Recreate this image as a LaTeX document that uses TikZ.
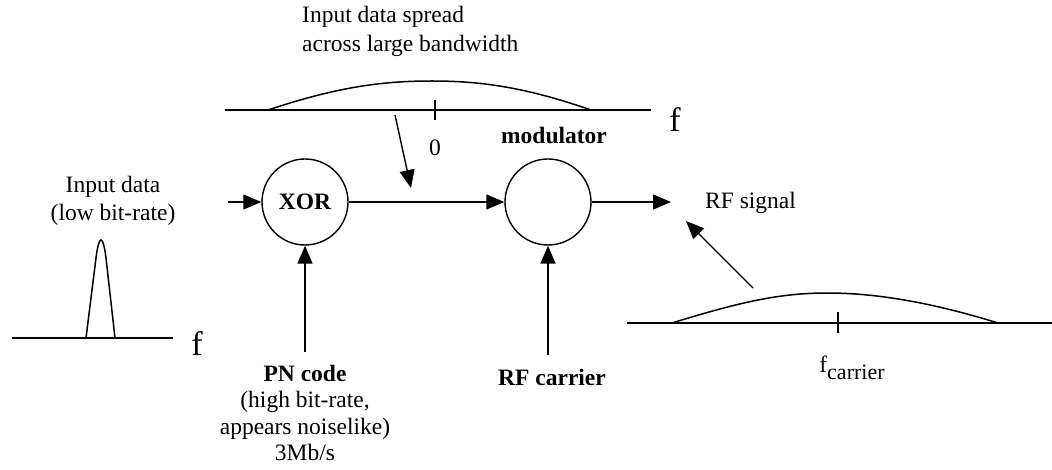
\documentclass[tikz,border=0pt]{standalone}
\usepackage{fontspec}
\setmainfont{Liberation Serif}
\usetikzlibrary{arrows.meta}
\newcommand{\txt}{\fontsize{23.5}{27.5}\selectfont}
\newcommand{\bigf}{\fontsize{34}{40}\selectfont f}
\tikzset{
  blk/.style={draw, circle, line width=1.4pt, minimum size=86pt, inner sep=0pt},
  sig/.style={-{Triangle[length=18pt,width=15pt]}, line width=1.4pt},
  axis/.style={line width=2pt},
  lbl/.style={inner sep=0pt, align=center},
}

\begin{document}
\begin{tikzpicture}[x=1pt, y=-1pt, font=\txt]
  \useasboundingbox (0,0) rectangle (1052,470);
  % blocks and the signal path
  \node[blk] (xor) at (305,202) {\textbf{XOR}};
  \node[blk] (mod) at (548,202) {};
  \node[lbl, font=\txt\bfseries] (modlbl) at (554,135) {modulator};
  \coordinate (inA) at (228,202);
  \coordinate (outB) at (671,202);
  \draw[sig] (inA) -- (xor.west);
  \draw[sig] (xor.east) -- (mod.west);
  \draw[sig] (mod.east) -- (outB);
  \node[lbl, anchor=west] (rfsig) at (705,203) {RF signal};
  % inputs from below
  \node[lbl, font=\fontsize{23.5}{26.5}\selectfont] (pncode) at (305,413) {\textbf{PN code}\\(high bit-rate,\\appears noiselike)\\3Mb/s};
  \node[lbl] (rfcar) at (552,377) {\textbf{RF carrier}};
  \draw[sig] ([yshift=13pt]pncode.north -| xor.south) -- (xor.south);
  \draw[sig] ([yshift=14pt]rfcar.north -| mod.south) -- (mod.south);
  % (a) narrow spectrum of the input data
  \node[lbl] (indata) at (113,201) {Input data\\(low bit-rate)};
  \draw[axis] (12,338) -- (173,338);
  \draw[line width=1.5pt] (86,338) -- (96,258) .. controls (99,234) and (103,234) .. (106,258) -- (115,338);
  \node[lbl] (fa) at (197,344) {\bigf};
  % (b) spread spectrum after XOR
  \node[lbl, anchor=west, align=left, font=\fontsize{23.5}{29}\selectfont] (spread) at (302,31) {Input data spread\\across large bandwidth};
  \draw[axis] (225,110) -- (651,110);
  \draw[line width=1.5pt] (268,110) .. controls (340,86) and (385,81) .. (432,81) .. controls (480,81) and (525,87) .. (591,110);
  \draw[line width=1.4pt] (435,100) -- (435,120);
  \node[lbl] (zero) at (435,148) {0};
  \node[lbl] (fb) at (675,120) {\bigf};
  \coordinate (sprA) at (395,115);
  \coordinate (sprB) at (411,188);
  \draw[sig] (sprA) -- (sprB);
  % (c) spectrum of the RF signal round the carrier
  \draw[axis] (627,323) -- (1052,323);
  \draw[line width=1.5pt] (672,323) .. controls (740,302) and (780,293) .. (827,293) .. controls (875,293) and (930,302) .. (998,323);
  \draw[line width=1.4pt] (838,312) -- (838,333);
  \node[lbl] (fcar) at (852,368) {f\raisebox{-7pt}{\fontsize{22}{26}\selectfont carrier}};
  \coordinate (rfA) at (753,288);
  \coordinate (rfB) at (686,221);
  \draw[sig] (rfA) -- (rfB);
\end{tikzpicture}
\end{document}
